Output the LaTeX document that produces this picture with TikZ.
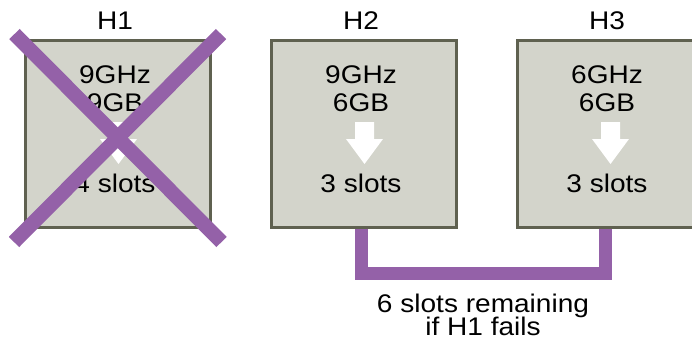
\documentclass[tikz,border=0pt]{standalone}
\usepackage{fontspec}
\setmainfont[FakeStretch=1.1]{Liberation Sans}
\usetikzlibrary{positioning}

\definecolor{hostfill}{HTML}{D3D4CB}
\definecolor{hostline}{HTML}{5F6150}
\definecolor{failpurple}{HTML}{9461A8}

\begin{document}
\begin{tikzpicture}[
  x=1pt, y=-1pt,
  node distance=58pt,
  host/.style={draw=hostline, fill=hostfill, line width=3pt, minimum width=185pt, minimum height=187pt, inner sep=0pt},
  txt/.style={anchor=base, font=\fontsize{25.5}{29}\selectfont, inner sep=0pt},
  cross/.style={failpurple, line width=14.5pt},
  bracket/.style={failpurple, line width=13pt, line join=miter}
]
\useasboundingbox (0,0) rectangle (692,345);
\clip (0,0) rectangle (692,345);

% the three hosts
\node[host] (h1) at (118,134) {};
\node[host, right=of h1] (h2) {};
\node[host, right=of h2] (h3) {};

% name, capacity and slot count of each host
\foreach \h/\name/\ghz/\gb/\slots in {h1/H1/9GHz/9GB/4, h2/H2/9GHz/6GB/3, h3/H3/6GHz/6GB/3} {
  \node[txt] (\h-head) at ([xshift=-3pt,yshift=9pt]\h.north) {\name};
  \node[txt] (\h-cpu) at ([xshift=-3pt,yshift=-44pt]\h.north) {\ghz};
  \node[txt] (\h-mem) at ([xshift=-3pt,yshift=-72pt]\h.north) {\gb};
  \fill[white] ([xshift=-9pt,yshift=-83pt]\h.north) -- ++(19,0) -- ++(0,17) -- ++(9,0)
    -- ++(-18.5,25) -- ++(-18.5,-25) -- ++(9,0) -- cycle;
  \node[txt] (\h-slots) at ([xshift=-3pt,yshift=-153pt]\h.north) {\slots\ slots};
}

% H1 is crossed out
\draw[cross] ([shift={(-9.5pt,5pt)}]h1.north west) -- ([shift={(9.5pt,-13pt)}]h1.south east);
\draw[cross] ([shift={(9pt,5pt)}]h1.north east) -- ([shift={(-10pt,-13pt)}]h1.south west);

% H2 and H3 together
\draw[bracket] ([xshift=-3pt]h2.south) -- ++(0,44) -| ([xshift=-5pt]h3.south);
\node[txt] (note1) at (483,312) {6 slots remaining};
\node[txt] (note2) at (483,335) {if H1 fails};
\end{tikzpicture}
\end{document}
